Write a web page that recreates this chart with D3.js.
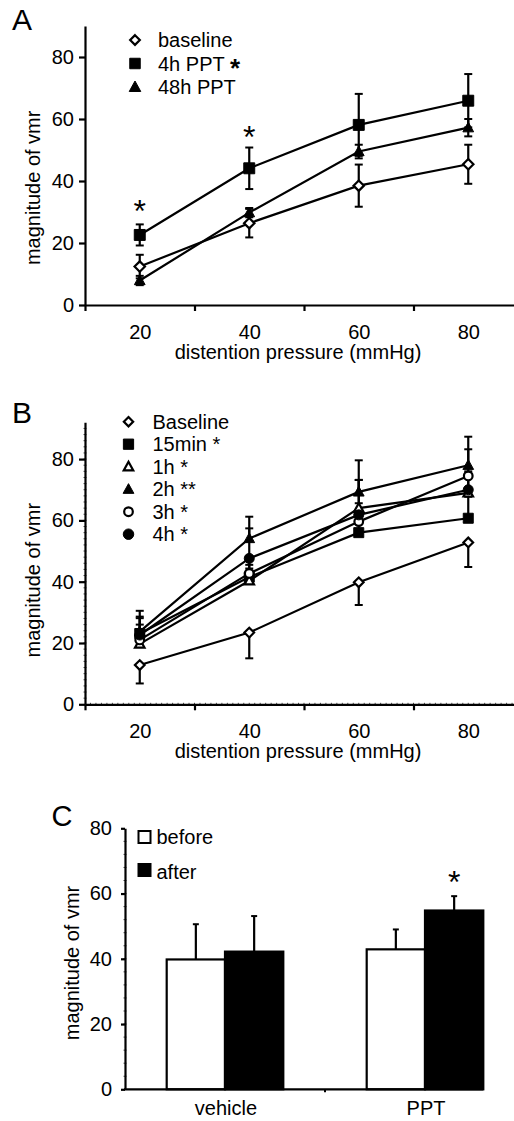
<!DOCTYPE html>
<html><head><meta charset="utf-8">
<script src="https://cdn.jsdelivr.net/npm/d3@7"></script>
<style>
html,body{margin:0;padding:0;background:#fff;}
text{font-family:"Liberation Sans",Arial,sans-serif;fill:#000;}
</style>
</head><body>
<svg id="chart" width="514" height="1121"></svg>
<script>
// ---------- DATA ----------
const pressures = [20, 40, 60, 80];
const xTicksMajor = [10, 30, 50, 70];
const yTicks = [0, 20, 40, 60, 80];

// Panel A
const seriesA = ["baseline", "4h PPT", "48h PPT"];
const baselineA = [12.4, 26.4, 38.5, 45.4];
const baselineAErr = [3.8, 4.6, 6.8, 6.3];
const ppt4hA = [22.6, 44.1, 58.1, 65.9];
const ppt4hAErr = [3.4, 6.7, 10.0, 8.6];
const ppt48hA = [7.9, 29.8, 49.5, 57.2];
const ppt48hAErr = [1.5, 1.5, 2.2, 2.8];
const starsA = [{p: 20, v: 32.3}, {p: 40, v: 56.1}];

// Panel B
const seriesB = ["Baseline", "15min *", "1h *", "2h **", "3h *", "4h *"];
const baselineB = [12.8, 23.4, 39.8, 52.8];
const baselineBErr = [6.0, 8.4, 7.4, 8.0];
const min15B = [23.1, 41.5, 56.0, 60.7];
const min15BErr = [5.0, 4.0, 6.0, 7.0];
const h1B = [19.7, 40.3, 64.0, 69.0];
const h1BErr = [4.0, 4.0, 9.2, 5.0];
const h2B = [23.7, 54.1, 69.3, 78.0];
const h2BErr = [6.8, 7.1, 10.3, 9.3];
const h3B = [21.0, 42.7, 59.6, 74.5];
const h3BErr = [5.0, 5.0, 6.0, 8.7];
const h4B = [22.6, 47.6, 61.8, 70.0];
const h4BErr = [6.0, 9.8, 11.4, 6.0];

// Panel C
const groupsC = ["vehicle", "PPT"];
const conditionsC = ["before", "after"];
const beforeC = [39.8, 42.9];
const beforeCErr = [10.8, 6.1];
const afterC = [42.2, 54.8];
const afterCErr = [10.9, 4.4];
const starsC = [{g: "PPT", c: "after", v: 65.4}];

// ---------- HELPERS ----------
const svg = d3.select("#chart");
const FONT = 20;
const FF = '"Liberation Sans",Arial,sans-serif';

const diamondType = {draw(ctx, size){ const r = Math.sqrt(size)/2*1.2; ctx.moveTo(0,-r); ctx.lineTo(r,0); ctx.lineTo(0,r); ctx.lineTo(-r,0); ctx.closePath(); }};
const squareType = {draw(ctx, size){ const r = Math.sqrt(size)/2; ctx.rect(-r,-r,2*r,2*r); }};
const triType = {draw(ctx, size){ const r = Math.sqrt(size)/2; const h = r*1.9; ctx.moveTo(0,-h*0.6); ctx.lineTo(r*1.1,h*0.45); ctx.lineTo(-r*1.1,h*0.45); ctx.closePath(); }};
const circType = {draw(ctx, size){ const r = Math.sqrt(size)/2; ctx.moveTo(r,0); ctx.arc(0,0,r,0,2*Math.PI); }};

function marker(g, type, filled, size, x, y){
  const sw = filled ? 1 : 2.2;
  g.append("path")
    .attr("d", d3.symbol().type(type).size(size)())
    .attr("transform", `translate(${x},${y})`)
    .attr("fill", filled ? "#000" : "#fff")
    .attr("stroke", "#000").attr("stroke-width", sw).attr("stroke-linejoin","miter");
}

function drawLinePanel(cfg){
  const {x, y, series, titleAt} = cfg;
  const g = svg.append("g");
  const yAxis = d3.axisLeft(y).tickValues(yTicks).tickSize(6).tickPadding(5).tickSizeOuter(0);
  const gy = g.append("g").attr("transform", `translate(${x.range()[0]},0)`).call(yAxis);
  const xAxisT = d3.axisBottom(x).tickValues(xTicksMajor).tickSize(6).tickFormat("").tickSizeOuter(0);
  const gx = g.append("g").attr("transform", `translate(0,${y(0)})`).call(xAxisT);
  const xAxisL = d3.axisBottom(x).tickValues(pressures).tickSize(0).tickPadding(20).tickFormat(d3.format("d"));
  const gxl = g.append("g").attr("transform", `translate(0,${y(0)})`).call(xAxisL);
  gxl.select(".domain").remove();
  [gy, gx, gxl].forEach(a => {
    a.selectAll("text").attr("font-size", FONT).attr("font-family", FF);
    a.selectAll("path,line").attr("stroke", "#000").attr("stroke-width", 2.2);
  });
  if (cfg.minor){
    g.append("g").selectAll("line").data(d3.range(11, 92, 1)).join("line")
      .attr("x1", d => x(d)).attr("x2", d => x(d))
      .attr("y1", y(0)-1.5).attr("y2", y(0)+1.5).attr("stroke","#000").attr("stroke-width",0.7);
    g.append("g").selectAll("line").data(d3.range(2, 92, 2)).join("line")
      .attr("x1", x.range()[0]-1.5).attr("x2", x.range()[0]+1.5)
      .attr("y1", d => y(d)).attr("y2", d => y(d)).attr("stroke","#000").attr("stroke-width",0.7);
  }
  g.append("text").attr("x", 298).attr("y", y(0)+47).attr("dy","0.35em")
    .attr("text-anchor","middle").attr("font-size", FONT).text("distention pressure (mmHg)");
  g.append("text").attr("transform", `translate(33,${y(titleAt)}) rotate(-90)`).attr("dy","0.35em")
    .attr("text-anchor","middle").attr("font-size", FONT).text("magnitude of vmr");
  const line = d3.line().x((d,i) => x(pressures[i])).y(d => y(d));
  series.forEach(s => {
    g.append("path").datum(s.values).attr("d", line).attr("fill","none")
      .attr("stroke","#000").attr("stroke-width",2.2);
  });
  series.forEach(s => {
    s.values.forEach((v,i) => {
      const e = s.err[i];
      const cx = x(pressures[i]);
      const lo = s.dir === "up" ? v : v - e;
      const hi = s.dir === "down" ? v : v + e;
      g.append("line").attr("x1",cx).attr("x2",cx).attr("y1",y(lo)).attr("y2",y(hi))
        .attr("stroke","#000").attr("stroke-width",2.2);
      if (s.dir !== "down") g.append("line").attr("x1",cx-4).attr("x2",cx+4).attr("y1",y(hi)).attr("y2",y(hi)).attr("stroke","#000").attr("stroke-width",2);
      if (s.dir !== "up") g.append("line").attr("x1",cx-4).attr("x2",cx+4).attr("y1",y(lo)).attr("y2",y(lo)).attr("stroke","#000").attr("stroke-width",2);
    });
  });
  series.forEach(s => {
    s.values.forEach((v,i) => marker(g, s.type, s.filled, s.size, x(pressures[i]), y(v)));
  });
  return g;
}

// ---------- PANEL A ----------
const xA = d3.scaleLinear().domain([10, 90]).range([85, 523]);
const yA = d3.scaleLinear().domain([0, 90]).range([305, 26]);
const serA = [
  {name: seriesA[0], values: baselineA, err: baselineAErr, type: diamondType, filled: false, size: 75, dir: "both"},
  {name: seriesA[2], values: ppt48hA, err: ppt48hAErr, type: triType, filled: true, size: 95, dir: "both"},
  {name: seriesA[1], values: ppt4hA, err: ppt4hAErr, type: squareType, filled: true, size: 120, dir: "both"}
];
const gA = drawLinePanel({x: xA, y: yA, series: serA, titleAt: 37.8, minor: false});
starsA.forEach(s => gA.append("text").attr("x", xA(s.p)).attr("y", yA(s.v)+17).attr("text-anchor","middle")
  .attr("font-size", 32).text("*"));
gA.append("text").attr("x", 22).attr("y", 30).attr("text-anchor","middle").attr("font-size", 30).text("A");
const legA = [
  {label: seriesA[0], type: diamondType, filled: false, size: 65, star: false},
  {label: seriesA[1], type: squareType, filled: true, size: 110, star: true},
  {label: seriesA[2], type: triType, filled: true, size: 110, star: false}
];
legA.forEach((d,i) => {
  const cy = 40 + i*23.5;
  marker(gA, d.type, d.filled, d.size, 135, cy);
  gA.append("text").attr("x", 158).attr("y", cy).attr("dy","0.35em").attr("font-size", FONT).text(d.label);
  if (d.star) gA.append("text").attr("x", 235).attr("y", cy + 13).attr("text-anchor","middle")
    .attr("font-size", 26).attr("font-weight","bold").text("*");
});

// ---------- PANEL B ----------
const xB = d3.scaleLinear().domain([10, 90]).range([85, 523]);
const yB = d3.scaleLinear().domain([0, 92]).range([704.3, 422.3]);
const serB = [
  {name: seriesB[0], values: baselineB, err: baselineBErr, type: diamondType, filled: false, size: 65, dir: "down"},
  {name: seriesB[1], values: min15B, err: min15BErr, type: squareType, filled: true, size: 100, dir: "up"},
  {name: seriesB[2], values: h1B, err: h1BErr, type: triType, filled: false, size: 75, dir: "up"},
  {name: seriesB[4], values: h3B, err: h3BErr, type: circType, filled: false, size: 75, dir: "up"},
  {name: seriesB[5], values: h4B, err: h4BErr, type: circType, filled: true, size: 100, dir: "up"},
  {name: seriesB[3], values: h2B, err: h2BErr, type: triType, filled: true, size: 95, dir: "up"}
];
const gB = drawLinePanel({x: xB, y: yB, series: serB, titleAt: 40.5, minor: true});
gB.append("text").attr("x", 22).attr("y", 423).attr("text-anchor","middle").attr("font-size", 30).text("B");
const legB = [
  {type: diamondType, filled: false, size: 60},
  {type: squareType, filled: true, size: 105},
  {type: triType, filled: false, size: 75},
  {type: triType, filled: true, size: 95},
  {type: circType, filled: false, size: 75},
  {type: circType, filled: true, size: 110}
];
legB.forEach((d,i) => {
  const cy = 421.7 + i*22.5;
  marker(gB, d.type, d.filled, d.size, 128.5, cy);
  gB.append("text").attr("x", 152.5).attr("y", cy).attr("dy","0.35em").attr("font-size", FONT).text(seriesB[i]);
});

// ---------- PANEL C ----------
const gC = svg.append("g");
const yC = d3.scaleLinear().domain([0, 80]).range([1089.3, 828.3]);
const xC = d3.scaleBand().domain(groupsC).range([125, 525]).paddingInner(0.417).paddingOuter(0.2085);
const xSub = d3.scaleBand().domain(conditionsC).range([0, xC.bandwidth()]);
const barsC = [];
groupsC.forEach((g,i) => {
  barsC.push({g, c: "before", v: beforeC[i], e: beforeCErr[i]});
  barsC.push({g, c: "after", v: afterC[i], e: afterCErr[i]});
});
barsC.forEach(d => {
  const cx = xC(d.g) + xSub(d.c) + xSub.bandwidth()/2;
  gC.append("line").attr("x1",cx).attr("x2",cx).attr("y1",yC(d.v)).attr("y2",yC(d.v+d.e)).attr("stroke","#000").attr("stroke-width",2.2);
  gC.append("line").attr("x1",cx-3).attr("x2",cx+3).attr("y1",yC(d.v+d.e)).attr("y2",yC(d.v+d.e)).attr("stroke","#000").attr("stroke-width",2);
});
gC.selectAll("rect.bar").data(barsC).join("rect").attr("class","bar")
  .attr("x", d => xC(d.g) + xSub(d.c))
  .attr("width", xSub.bandwidth())
  .attr("y", d => yC(d.v)).attr("height", d => yC(0) - yC(d.v))
  .attr("fill", d => d.c === "after" ? "#000" : "#fff")
  .attr("stroke","#000").attr("stroke-width",2.2);
const yAxisC = d3.axisLeft(yC).tickValues(yTicks).tickSize(4).tickPadding(9).tickSizeOuter(0);
const gyC = gC.append("g").attr("transform","translate(125,0)").call(yAxisC);
gyC.selectAll("text").attr("font-size", FONT).attr("font-family", FF);
gyC.selectAll("path,line").attr("stroke","#000").attr("stroke-width",2.2);
gC.append("g").selectAll("line").data(d3.range(4, 80, 4)).join("line")
  .attr("x1",123.5).attr("x2",126.5).attr("y1",d=>yC(d)).attr("y2",d=>yC(d)).attr("stroke","#000").attr("stroke-width",0.7);
const xEndC = xC(groupsC[groupsC.length-1]) + xC.bandwidth();
gC.append("line").attr("x1",124).attr("x2",xEndC).attr("y1",yC(0)).attr("y2",yC(0)).attr("stroke","#000").attr("stroke-width",2.2);
const midTick = (xC(groupsC[0]) + xC.bandwidth() + xC(groupsC[1]))/2;
gC.append("line").attr("x1",midTick).attr("x2",midTick).attr("y1",yC(0)).attr("y2",yC(0)+3).attr("stroke","#000").attr("stroke-width",2);
gC.selectAll("text.cat").data(groupsC).join("text").attr("class","cat")
  .attr("x", d => xC(d) + xC.bandwidth()/2 + 1).attr("y", 1108).attr("dy","0.35em")
  .attr("text-anchor","middle").attr("font-size", FONT).text(d => d);
gC.append("text").attr("transform","translate(72,963) rotate(-90)").attr("dy","0.35em")
  .attr("text-anchor","middle").attr("font-size", FONT).text("magnitude of vmr");
gC.append("text").attr("x", 62).attr("y", 826).attr("text-anchor","middle").attr("font-size", 29).text("C");
starsC.forEach(s => gC.append("text").attr("x", xC(s.g) + xSub(s.c) + xSub.bandwidth()/2)
  .attr("y", yC(s.v)+17).attr("text-anchor","middle").attr("font-size", 32).text("*"));
conditionsC.forEach((c,i) => {
  const cy = 837 + i*33;
  gC.append("rect").attr("x", 138.5).attr("y", cy-6).attr("width", 12).attr("height", 12)
    .attr("fill", c === "after" ? "#000" : "#fff").attr("stroke","#000").attr("stroke-width",2);
  gC.append("text").attr("x", 156.5).attr("y", cy + (i===1?2:0)).attr("dy","0.35em").attr("font-size", FONT).text(c);
});
</script>
</body></html>
